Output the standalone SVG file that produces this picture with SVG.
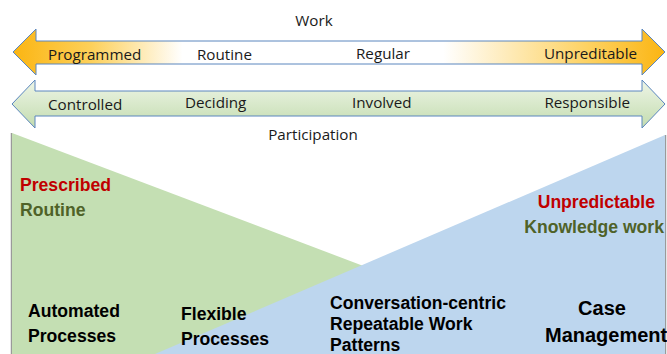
<svg xmlns="http://www.w3.org/2000/svg" width="667" height="354" viewBox="0 0 667 354">
<defs>
<linearGradient id="gWork" x1="13" y1="0" x2="665" y2="0" gradientUnits="userSpaceOnUse">
<stop offset="0" stop-color="#FBB512"/>
<stop offset="0.12" stop-color="#FDD05A"/>
<stop offset="0.26" stop-color="#FFFFFF"/>
<stop offset="0.66" stop-color="#FFFFFF"/>
<stop offset="0.88" stop-color="#FDD263"/>
<stop offset="1" stop-color="#FBB512"/>
</linearGradient>
<linearGradient id="gPart" x1="0" y1="80" x2="0" y2="128" gradientUnits="userSpaceOnUse">
<stop offset="0" stop-color="#EEF5E7"/>
<stop offset="1" stop-color="#C3DCAF"/>
</linearGradient>
<style>
.arrow{stroke:#5A86BE;stroke-width:1;stroke-linejoin:miter}
.lbl{font-family:"Open Sans","DejaVu Sans",sans-serif;font-size:15.2px;fill:#1a1a1a}
.b{font-family:"Liberation Sans",Arial,sans-serif;font-weight:bold;font-size:17.6px;fill:#000}
.red{fill:#C00000}
.dg{fill:#4F6228}
.big{font-size:20px}
</style>
</defs>
<rect width="667" height="354" fill="#FFFFFF"/>

<g id="work-arrow">
<path class="arrow" fill="url(#gWork)" d="M13,52 L36,29 L36,41 L642,41 L642,29 L665,52 L642,75 L642,64 L36,64 L36,75 Z"/>
<text class="lbl" x="314" y="26" text-anchor="middle">Work</text>
<text class="lbl" x="48" y="60">Programmed</text>
<text class="lbl" x="197" y="60">Routine</text>
<text class="lbl" x="356" y="59">Regular</text>
<text class="lbl" x="637" y="59" text-anchor="end">Unpreditable</text>
</g>

<g id="participation-arrow">
<path class="arrow" fill="url(#gPart)" d="M12,104 L35,80 L35,91 L642,91 L642,80 L665,104 L642,128 L642,116 L35,116 L35,128 Z"/>
<text class="lbl" x="48" y="110">Controlled</text>
<text class="lbl" x="185" y="108">Deciding</text>
<text class="lbl" x="352" y="108">Involved</text>
<text class="lbl" x="630" y="108" text-anchor="end">Responsible</text>
<text class="lbl" x="313" y="140" text-anchor="middle">Participation</text>
</g>

<g id="routine-triangle">
<line x1="11.5" y1="133" x2="11.5" y2="354" stroke="#9A9A9A" stroke-width="1.5"/>
<polygon points="12,133 596,354 12,354" fill="#C4DFB3"/>
<text class="b red" x="20" y="191">Prescribed</text>
<text class="b dg" x="20" y="216">Routine</text>
<text class="b" x="28" y="317">Automated</text>
<text class="b" x="28" y="342">Processes</text>
</g>

<g id="knowledge-triangle">
<line x1="665.5" y1="135" x2="665.5" y2="354" stroke="#9A9A9A" stroke-width="1.5"/>
<polygon points="155,354 665,135 665,354" fill="#BDD6EE"/>
<text class="b red" x="655" y="208" text-anchor="end">Unpredictable</text>
<text class="b dg" x="664" y="233" text-anchor="end">Knowledge work</text>
<text class="b big" x="602" y="315" text-anchor="middle">Case</text>
<text class="b big" x="545" y="342">Management</text>
</g>

<g id="flexible">
<text class="b" x="181" y="320">Flexible</text>
<text class="b" x="181" y="345">Processes</text>
</g>

<g id="conversation">
<text class="b" x="330" y="309">Conversation-centric</text>
<text class="b" x="330" y="330">Repeatable Work</text>
<text class="b" x="330" y="351">Patterns</text>
</g>

<g id="connectors"></g>
</svg>
